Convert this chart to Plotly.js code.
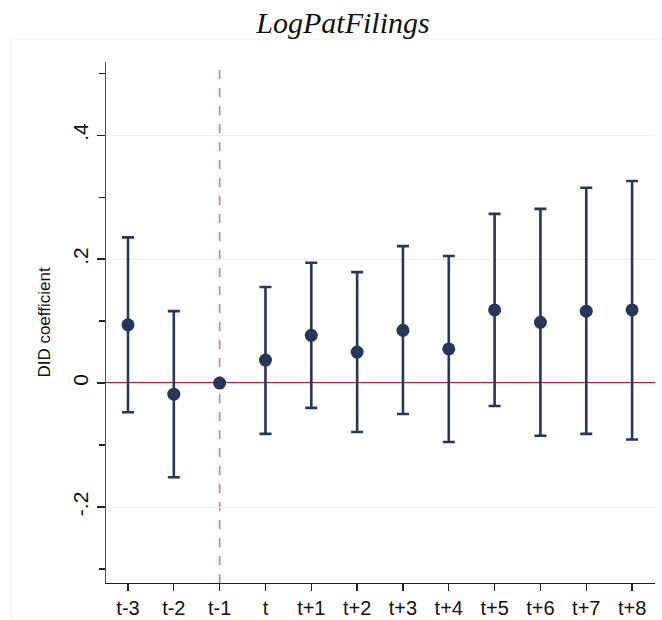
<!DOCTYPE html>
<html>
<head>
<meta charset="utf-8">
<script src="https://cdn.plot.ly/plotly-3.0.1.min.js"></script>
<style>html,body{margin:0;padding:0;background:#fff;}#chart{width:662px;height:620px;}</style>
</head>
<body>
<div id="chart"></div>
<script>
const categories = ['t-3','t-2','t-1','t','t+1','t+2','t+3','t+4','t+5','t+6','t+7','t+8'];
const coef  = [0.094, -0.018, 0.000, 0.037, 0.077, 0.050, 0.085, 0.055, 0.118, 0.098, 0.116, 0.118];
const upper = [0.235,  0.116, 0.000, 0.155, 0.194, 0.179, 0.221, 0.205, 0.273, 0.281, 0.315, 0.326];
const lower = [-0.047, -0.152, 0.000, -0.082, -0.040, -0.079, -0.050, -0.095, -0.037, -0.085, -0.082, -0.091];
const yTickVals = [-0.2, 0, 0.2, 0.4];
const yTickText = ['-.2', '0', '.2', '.4'];
const refCategory = 't-1';

const errPlus = coef.map((c, i) => upper[i] - c);
const errMinus = coef.map((c, i) => c - lower[i]);

const navy = '#283659';
const sans = 'Liberation Sans, Arial, sans-serif';

const trace = {
  x: categories,
  y: coef,
  type: 'scatter',
  mode: 'markers',
  marker: {color: navy, size: 13},
  error_y: {
    type: 'data', symmetric: false,
    array: errPlus, arrayminus: errMinus,
    color: navy, thickness: 2.6, width: 6
  },
  hoverinfo: 'skip',
  showlegend: false
};

const layout = {
  width: 662, height: 620,
  margin: {l: 106, r: 7, t: 62, b: 37},
  paper_bgcolor: '#ffffff',
  plot_bgcolor: '#ffffff',
  title: {
    text: 'LogPatFilings',
    font: {family: 'Liberation Serif, Times New Roman, serif', size: 30, color: '#111', style: 'italic'},
    x: 343/662, xref: 'container', xanchor: 'center',
    y: 1 - 22/620, yref: 'container', yanchor: 'middle'
  },
  xaxis: {
    type: 'category',
    range: [-0.48, 11.5],
    showgrid: false,
    zeroline: false,
    showline: true, linecolor: '#222', linewidth: 1.3,
    ticks: 'outside', ticklen: 7, tickwidth: 1.3, tickcolor: '#222',
    tickfont: {family: sans, size: 20, color: '#111'},
    mirror: false
  },
  yaxis: {
    range: [-0.3226, 0.518],
    tickmode: 'array', tickvals: yTickVals, ticktext: yTickText,
    tickangle: -90,
    showgrid: true, gridcolor: '#e9eff3', gridwidth: 1,
    zeroline: false,
    showline: true, linecolor: '#555', linewidth: 1.5,
    ticks: 'outside', ticklen: 8, tickwidth: 1.2, tickcolor: '#222',
    tickfont: {family: sans, size: 21, color: '#111'},
    minor: {dtick: 0.1, tick0: 0, ticks: 'outside', ticklen: 6, tickwidth: 1.2, tickcolor: '#222', showgrid: false},
    title: {text: 'DID coefficient', standoff: 14,
      font: {family: sans, size: 17, color: '#111'}}
  },
  shapes: [
    {type: 'rect', xref: 'paper', yref: 'paper',
      x0: -95/549, x1: 1 + 7/549, y0: -37/521, y1: 1 + 23/521,
      line: {color: '#f1f1f1', width: 1}, fillcolor: 'rgba(0,0,0,0)', layer: 'below'},
    {type: 'line', xref: 'x', yref: 'paper', x0: refCategory, x1: refCategory, y0: 0, y1: 1,
      line: {color: '#c9868b', width: 1.7, dash: 'dash'}, layer: 'below'},
    {type: 'line', xref: 'paper', yref: 'y', x0: 0, x1: 1, y0: 0, y1: 0,
      line: {color: '#c4123f', width: 2}, layer: 'below'}
  ]
};

Plotly.newPlot('chart', [trace], layout, {displayModeBar: false, staticPlot: true});
</script>
</body>
</html>
